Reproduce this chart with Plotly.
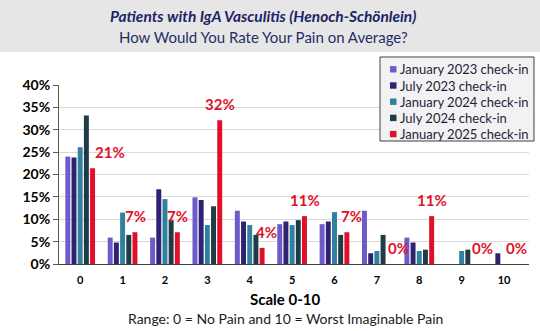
import plotly.graph_objects as go

categories = ["0", "1", "2", "3", "4", "5", "6", "7", "8", "9", "10"]
series_names = ["January 2023 check-in", "July 2023 check-in", "January 2024 check-in",
                "July 2024 check-in", "January 2025 check-in"]
jan_2023 = [24.0, 5.9, 5.9, 14.9, 11.9, 8.9, 8.9, 11.9, 5.9, 0.0, 0.0]
jul_2023 = [23.8, 4.8, 16.7, 14.3, 9.5, 9.5, 9.5, 2.4, 4.8, 0.0, 2.4]
jan_2024 = [26.1, 11.5, 14.5, 8.7, 8.7, 8.7, 11.6, 2.9, 2.9, 2.9, 0.0]
jul_2024 = [33.2, 6.5, 9.8, 12.9, 6.5, 9.8, 6.5, 6.5, 3.2, 3.2, 0.0]
jan_2025 = [21.4, 7.1, 7.1, 32.1, 3.6, 10.7, 7.1, 0.0, 10.7, 0.0, 0.0]
series_values = [jan_2023, jul_2023, jan_2024, jul_2024, jan_2025]
colors = ["#6E5BCB", "#2E2272", "#30819F", "#1F3B48", "#E0102A"]

title_line1 = "Patients with IgA Vasculitis (Henoch-Schönlein)"
title_line2 = "How Would You Rate Your Pain on Average?"
x_title = "Scale 0-10"
x_note = "Range: 0 = No Pain and 10 = Worst Imaginable Pain"

W, H = 540, 331
ML, MR, MT, MB = 59, 11, 85, 67
PW, PH = W - ML - MR, H - MT - MB
BARGAP, GROUPGAP = 0.27, 0.2
FONT = "Lato, 'Open Sans', sans-serif"
label_nudge = {"0": 17, "4": 4, "6": 5, "7": 9, "9": 8}


def py(p):
    return (H - MB - p) / PH


def px(p):
    return (p - ML) / PW


fig = go.Figure()
for name, vals, col in zip(series_names, series_values, colors):
    fig.add_trace(go.Bar(x=categories, y=[v / 100 for v in vals], name=name,
                         marker=dict(color=col, line=dict(width=0)),
                         showlegend=False))

# data labels for the latest series
slot = PW / len(categories) * (1 - BARGAP) / len(series_names)
offset = 2 * slot
for c, v in zip(categories, jan_2025):
    fig.add_annotation(x=c, y=v / 100, text=f"{v:.0f}%", showarrow=False,
                       xshift=offset + label_nudge.get(c, 0), yshift=16,
                       xanchor="center", yanchor="middle",
                       font=dict(family=FONT, size=15, color="#E0102A", weight="bold"))

# title band
fig.add_shape(type="rect", xref="paper", yref="paper", x0=px(0), x1=px(W),
              y0=py(52), y1=py(0), fillcolor="#E7E6E6", line=dict(width=0), layer="below")
fig.add_annotation(xref="paper", yref="paper", x=px(263), y=py(16),
                   text=f"<b><i>{title_line1}</i></b>", showarrow=False,
                   xanchor="center", yanchor="middle",
                   font=dict(family=FONT, size=15.5, color="#1B2566"))
fig.add_annotation(xref="paper", yref="paper", x=px(263), y=py(37),
                   text=title_line2, showarrow=False,
                   xanchor="center", yanchor="middle",
                   font=dict(family=FONT, size=15, color="#1F2F66"))
fig.add_annotation(xref="paper", yref="paper", x=px(284.5), y=py(299),
                   text=f"<b>{x_title}</b>", showarrow=False,
                   xanchor="center", yanchor="middle",
                   font=dict(family=FONT, size=15, color="#000000"))
fig.add_annotation(xref="paper", yref="paper", x=px(285.5), y=py(318),
                   text=x_note, showarrow=False,
                   xanchor="center", yanchor="middle",
                   font=dict(family=FONT, size=14, color="#1a1a1a"))

# legend box (drawn from the series names and colours)
fig.add_shape(type="rect", xref="paper", yref="paper", x0=px(380), x1=px(534),
              y0=py(141), y1=py(57), fillcolor="#F2F2F2",
              line=dict(color="#404040", width=1))
for i, (name, col) in enumerate(zip(series_names, colors)):
    yc = 69.3 + 16.2 * i
    fig.add_shape(type="rect", xref="paper", yref="paper",
                  x0=px(390), x1=px(396.5), y0=py(yc + 3.2), y1=py(yc - 3.2),
                  fillcolor=col, line=dict(width=0))
    fig.add_annotation(xref="paper", yref="paper", x=px(398), y=py(yc),
                       text=name, showarrow=False, xanchor="left", yanchor="middle",
                       font=dict(family=FONT, size=13, color="#1E1E3A"))

fig.update_layout(
    width=W, height=H,
    margin=dict(l=ML, r=MR, t=MT, b=MB, pad=0),
    paper_bgcolor="white", plot_bgcolor="white",
    barmode="group", bargap=BARGAP, bargroupgap=GROUPGAP,
    font=dict(family=FONT, color="#000000"),
    showlegend=False,
)
fig.update_xaxes(type="category", showline=True, linecolor="#404040", linewidth=1,
                 ticks="", showgrid=False,
                 tickfont=dict(family=FONT, size=11, color="#000000", weight="bold"),
                 ticklabelstandoff=6)
fig.update_yaxes(range=[0, 0.4], dtick=0.05, tickformat=".0%",
                 showline=True, linecolor="#595959", linewidth=1,
                 ticks="outside", ticklen=5, tickcolor="#595959",
                 showgrid=True, gridcolor="#D9D9D9", gridwidth=1,
                 zeroline=False,
                 tickfont=dict(family=FONT, size=14, color="#000000", weight="bold"))

fig.write_html("out.html")
